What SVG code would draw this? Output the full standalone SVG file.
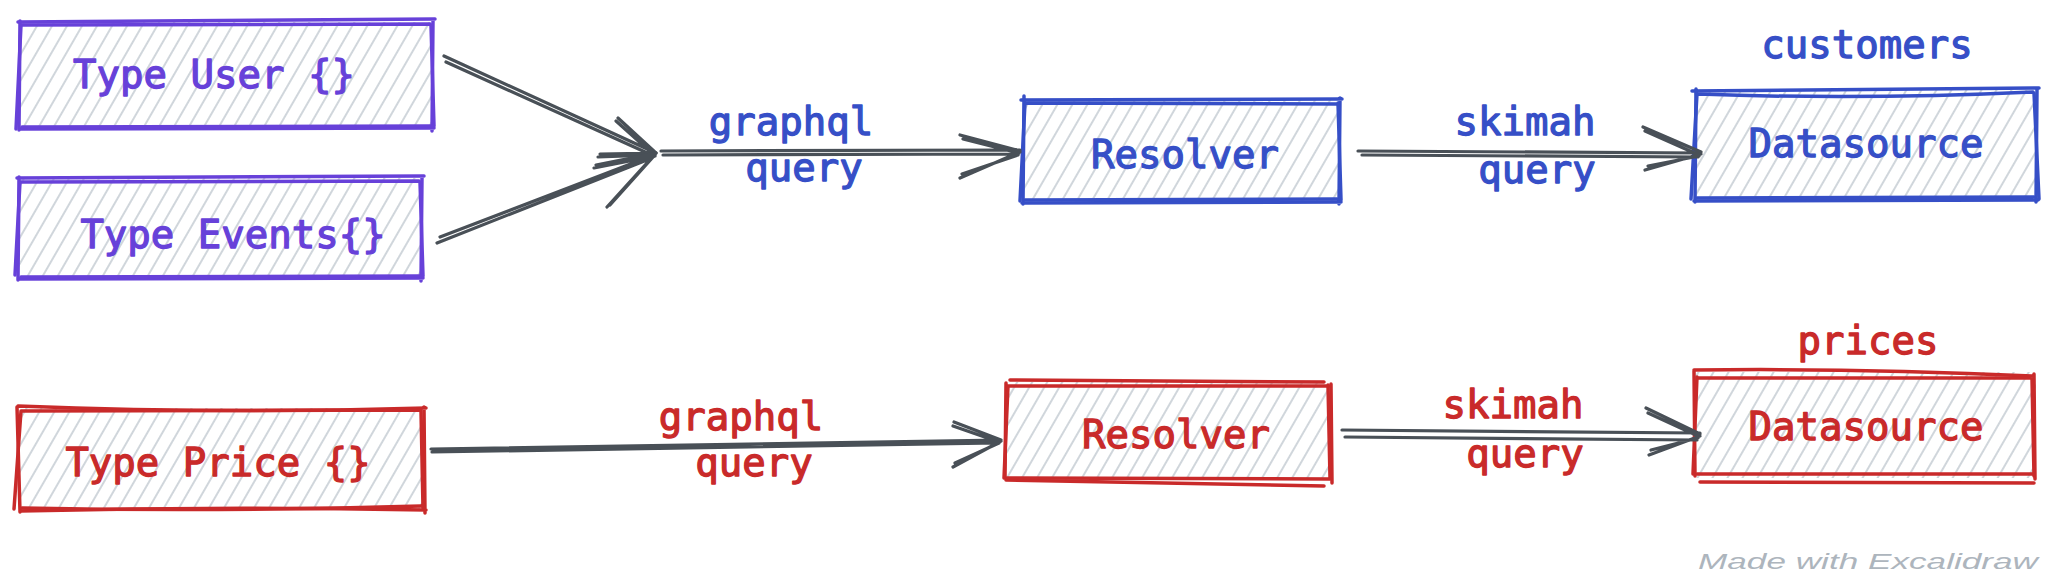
<svg xmlns="http://www.w3.org/2000/svg" width="2057" height="582" viewBox="0 0 2057 582">
<style>
.hatch{fill:url(#hatch);stroke:none}
.b{fill:none;stroke-width:3.5;stroke-linecap:round;stroke-linejoin:round}
.purple{stroke:#6741d9}
.blue{stroke:#364fc7}
.red{stroke:#c92a2a}
.conn path{fill:none;stroke:#495057;stroke-width:3.2;stroke-linecap:round;stroke-linejoin:round}
text{font-family:"DejaVu Sans Mono","Liberation Mono",monospace;font-size:39px;text-anchor:middle;stroke-width:1.3;stroke-linejoin:round}
.tp{fill:#6741d9;stroke:#6741d9}
.tb{fill:#364fc7;stroke:#364fc7}
.tr{fill:#c92a2a;stroke:#c92a2a}
.sig{font-family:"Liberation Sans",sans-serif;font-size:22px;fill:#adb5bd;font-style:italic;stroke:none}
</style>
<defs>
<pattern id="hatch" patternUnits="userSpaceOnUse" width="13" height="13" patternTransform="rotate(30)">
<line x1="6" y1="0" x2="6" y2="13" stroke="#ced4da" stroke-width="1.9"/>
</pattern>
</defs>

<g id="node-type-user">
<rect class="hatch" x="19" y="22" width="414" height="106"/>
<path class="b purple" d="M18 22 L435 19 M433 20 L432 131 M434 128 L19 129 M19 130 L20 21"/>
<path class="b purple" d="M21 25 L430 24 M431 25 L434 126 M431 126 L22 127 M16 129 L21 25"/>
<text class="tp" x="214" y="88">Type User {}</text>
</g>

<g id="node-type-events">
<rect class="hatch" x="18" y="178" width="404" height="100"/>
<path class="b purple" d="M17 178 L424 176 M422 177 L421 281 M423 278 L18 279 M18 280 L19 177"/>
<path class="b purple" d="M20 182 L419 181 M420 182 L423 276 M420 276 L21 277 M15 275 L20 182"/>
<text class="tp" x="233" y="248">Type Events{}</text>
</g>

<g id="node-resolver-blue">
<rect class="hatch" x="1023" y="100" width="317" height="102"/>
<path class="b blue" d="M1021 100 L1342 99 M1340 98 L1339 204 M1341 202 L1022 203 M1023 204 L1024 96"/>
<path class="b blue" d="M1026 103 L1337 104 M1338 103 L1341 200 M1337 199 L1025 200 M1020 201 L1025 103"/>
<text class="tb" x="1185" y="168">Resolver</text>
</g>

<g id="node-datasource-blue">
<rect class="hatch" x="1694" y="90" width="343" height="110"/>
<path class="b blue" d="M1692 91 L2039 88 M2037 89 L2036 202 M2038 200 L1694 201 M1695 202 L1696 89"/>
<path class="b blue" d="M1698 94 Q1860 100 2033 92 M2034 93 L2039 199 M2034 197 L1697 198 M1691 199 L1697 94"/>
<text class="tb" x="1866" y="157">Datasource</text>
<text class="tb" x="1867" y="58">customers</text>
</g>

<g id="node-type-price">
<rect class="hatch" x="19" y="408" width="405" height="102"/>
<path class="b red" d="M18 406 Q220 414 426 408 M424 407 L425 513 M426 510 Q220 506 20 511 M20 512 L17 407"/>
<path class="b red" d="M21 411 L421 410 M421 411 L423 508 M421 506 Q220 512 22 508 M14 509 L21 411"/>
<text class="tr" x="218" y="476">Type Price {}</text>
</g>

<g id="node-resolver-red">
<rect class="hatch" x="1005" y="382" width="326" height="98"/>
<path class="b red" d="M1010 380 L1324 382 M1331 384 L1332 483 M1324 486 L1006 480 M1005 478 L1006 383"/>
<path class="b red" d="M1007 386 L1329 386 M1328 385 L1330 478 M1330 479 L1007 478 M1004 478 L1008 386"/>
<text class="tr" x="1176" y="448">Resolver</text>
</g>

<g id="node-datasource-red">
<rect class="hatch" x="1695" y="372" width="341" height="106"/>
<path class="b red" d="M1694 370 Q1860 368 2032 376 M2034 374 L2035 479 M2034 483 L1700 482 M1695 476 L1694 371"/>
<path class="b red" d="M1697 378 L2030 378 M2032 379 L2034 476 M2033 474 L1697 474 M1693 474 L1697 377"/>
<text class="tr" x="1866" y="440">Datasource</text>
<text class="tr" x="1868" y="354">prices</text>
</g>

<g id="connectors" class="conn">
<path d="M444 56 L656 153 M446 62 L654 156 M618 118 L656 153 M616 121 L654 155 M600 154 L656 153 M598 157 L655 155"/>
<path d="M440 237 L654 155 M437 243 L652 158 M596 165 L656 153 M594 168 L655 156 M607 207 L656 153 M610 205 L654 156"/>
<path d="M661 151 L1020 150 M663 155 L1018 154 M960 135 L1020 151 M963 139 L1019 153 M960 178 L1020 152 M962 174 L1018 155"/>
<path d="M1358 151 L1700 153 M1362 155 L1698 157 M1643 127 L1701 152 M1645 131 L1699 155 M1645 170 L1701 154 M1648 166 L1699 156"/>
<path d="M431 449 L1000 440 M432 452 L998 443 M954 422 L1001 440 M953 426 L999 442 M953 467 L1001 441 M955 463 L999 443"/>
<path d="M1342 430 L1700 433 M1345 437 L1697 440 M1646 408 L1700 434 M1648 413 L1698 436 M1649 455 L1700 436 M1651 450 L1698 438"/>
</g>

<g id="labels">
<text class="tb" x="791" y="135">graphql</text>
<text class="tb" x="804" y="181">query</text>
<text class="tb" x="1525" y="135">skimah</text>
<text class="tb" x="1537" y="183">query</text>
<text class="tr" x="741" y="430">graphql</text>
<text class="tr" x="754" y="476">query</text>
<text class="tr" x="1513" y="418">skimah</text>
<text class="tr" x="1525" y="467">query</text>
</g>

<text class="sig" x="1868" y="569" textLength="340" lengthAdjust="spacingAndGlyphs">Made with Excalidraw</text>
</svg>
